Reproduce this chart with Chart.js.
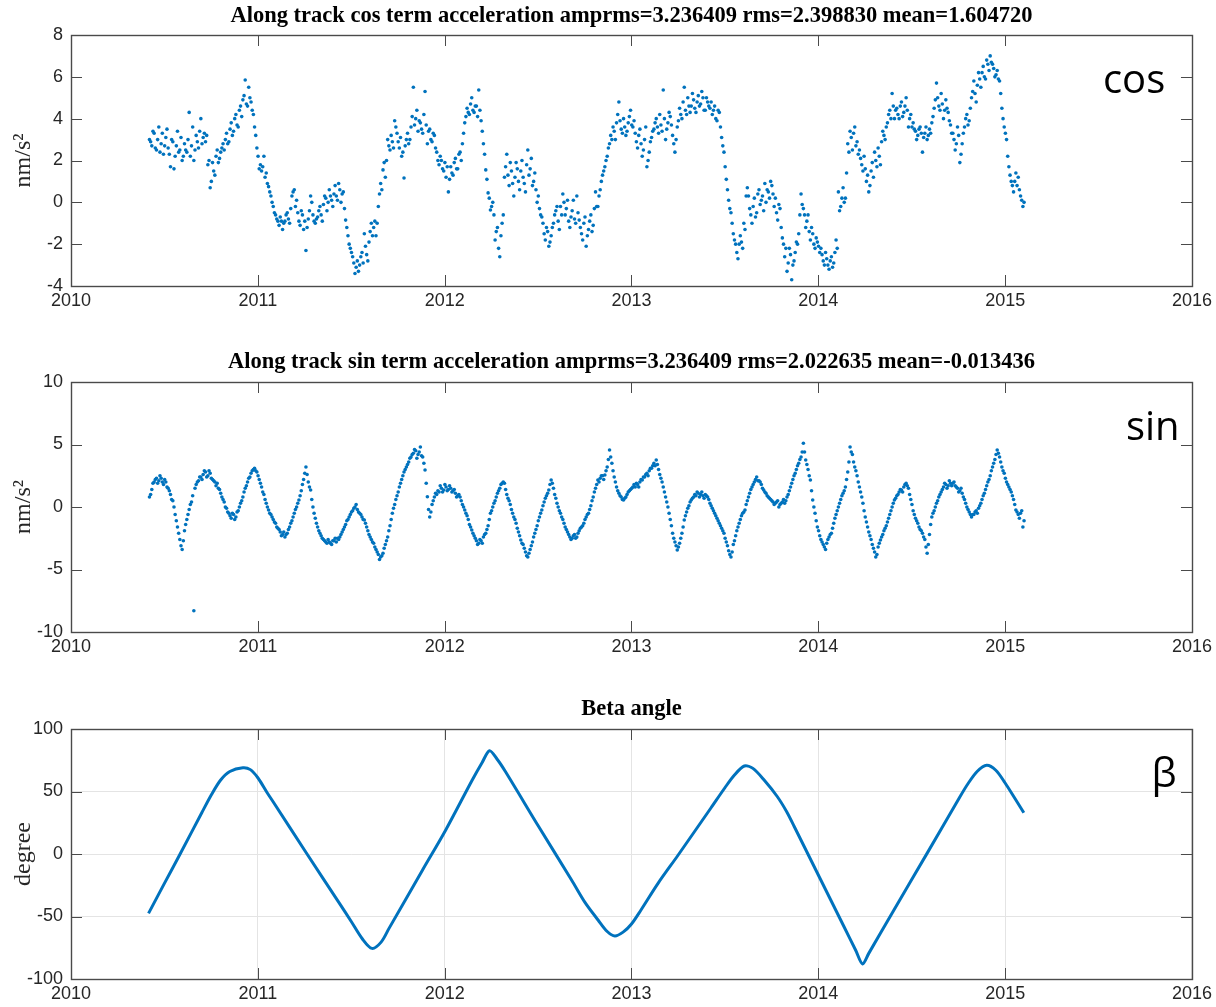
<!DOCTYPE html>
<html><head><meta charset="utf-8">
<script src="https://cdn.jsdelivr.net/npm/chart.js@4.4.1/dist/chart.umd.min.js"></script>
<style>
html,body{margin:0;padding:0;background:#fff;}
#wrap{position:relative;width:1216px;height:1007px;background:#fff;}
canvas{position:absolute;left:0;}
</style></head><body>
<div id="wrap">
<canvas id="c1" width="1216" height="320" style="top:0px"></canvas>
<canvas id="c2" width="1216" height="347" style="top:320px"></canvas>
<canvas id="c3" width="1216" height="340" style="top:667px"></canvas>
</div>
<script>
// ---- data ----
const startYear = 2010.42;
const stepYear = 0.0125;
const cosValues = [
 3.0, 2.7, 3.3, 2.5, 3.6, 2.8, 2.3, 3.1,
 2.6, 1.7, 2.9, 2.2, 3.4, 2.5, 2.0, 2.8,
 2.4, 4.3, 2.7, 2.0, 3.2, 2.6, 4.0, 3.1,
 2.9, 1.8, 0.7, 1.9, 1.3, 2.5, 2.1, 2.6,
 2.5, 3.3, 2.9, 3.8, 3.4, 4.2, 3.6, 4.6,
 4.9, 5.85, 4.6, 5.0, 4.4, 3.6, 2.6, 1.6,
 1.5, 2.2, 1.4, 0.75, 0.3, -0.2, -0.6, -0.9,
 -0.7, -1.3, -0.9, -0.5, -1.0, 0.3, 0.6, 0.1,
 -0.9, -0.4, -1.3, -2.3, -0.8, 0.3, -0.6, -1.0,
 -0.7, -0.2, -0.9, 0.3, -0.4, 0.6, 0.1, 0.4,
 0.3, 0.9, 0.0, 0.5, -0.85, -1.6, -2.2, -2.6,
 -3.4, -2.8, -3.0, -2.4, -1.5, -2.5, -1.9, -1.0,
 -1.2, -1.6, -0.2, 0.9, 1.55, 1.2, 3.0, 2.5,
 2.9, 3.9, 3.3, 2.6, 2.2, 1.16, 3.0, 2.8,
 3.6, 5.5, 4.0, 3.4, 3.8, 3.3, 5.3, 2.8,
 3.5, 2.9, 3.2, 2.4, 1.8, 2.0, 1.5, 1.2,
 0.5, 1.7, 1.3, 2.1, 1.6, 2.4, 2.8, 3.8,
 4.5, 4.2, 5.0, 4.3, 4.6, 5.37, 3.9, 2.8,
 1.55, 0.45, -0.37, 0.0, -1.8, -1.2, -2.6, -1.0,
 1.2, 2.3, 0.8, 1.5, 0.3, 1.9, 1.0, 1.5,
 1.2, 0.5, 2.5, 1.6, 0.8, 1.4, 0.0, -0.3,
 -0.7, -1.5, -1.2, -2.1, -1.6, -1.0, -0.4, -0.9,
 -0.2, 0.4, -0.6, 0.1, -1.2, -0.4, -0.8, 0.3,
 -0.85, -1.5, -1.0, -2.1, -1.3, -0.6, -1.1, 0.5,
 -0.2, 0.6, 1.3, 1.7, 2.2, 2.8, 3.0, 3.4,
 3.8, 4.8, 3.5, 4.0, 3.2, 3.8, 4.4, 3.6,
 3.3, 2.6, 3.5, 2.2, 3.0, 1.7, 2.4, 3.1,
 3.5, 4.0, 3.3, 3.7, 5.37, 3.0, 3.8, 4.1,
 3.2, 2.4, 3.6, 4.5, 4.0, 5.5, 4.2, 4.6,
 4.6, 4.9, 4.3, 5.1, 4.7, 5.0, 4.4, 4.8,
 4.5, 4.2, 4.6, 3.9, 4.3, 3.1, 2.4, 1.1,
 0.1, -0.5, -1.5, -2.0, -2.7, -1.6, -2.2, -1.3,
 0.7, -0.3, -1.0, 0.2, -0.5, 0.6, 0.1, -0.4,
 0.0, 0.5, 1.0, 0.4, 0.2, -0.85, -0.3, -1.7,
 -2.6, -3.3, -2.2, -3.7, -2.8, -1.9, -1.5, 0.4,
 -0.3, -1.2, -0.6, -1.8, -1.5, -2.2, -1.9, -2.4,
 -2.5, -3.0, -2.7, -3.2, -2.6, -2.9, -1.8, 0.5,
 -0.2, 0.7, 0.2, 2.8, 3.4, 2.5, 3.6, 2.9,
 2.5, 1.8, 2.2, 1.0, 0.5, 1.5, 1.2, 2.0,
 2.6, 1.8, 3.4, 3.0, 3.8, 4.4, 5.2, 4.0,
 4.5, 4.0, 4.8, 4.3, 5.0, 3.6, 4.2, 3.8,
 3.4, 3.2, 3.6, 2.4, 3.3, 3.0, 3.5, 3.8,
 4.5, 5.7, 4.6, 5.2, 4.0, 4.9, 4.3, 3.7,
 3.3, 2.5, 3.6, 1.9, 2.8, 3.6, 4.2, 3.9,
 5.0, 5.8, 4.8, 6.2, 5.5, 6.5, 5.9, 6.6,
 7.0, 6.6, 6.0, 6.3, 5.8, 4.5, 3.6, 3.0,
 1.7, 1.0, 0.5, 1.4, 1.2, 0.3, -0.2
];
// second reading of the cos cloud, half a step later
const cosValuesB = [
 2.9, 3.4, 2.6, 3.0, 2.4, 3.3, 2.7, 3.5,
 2.3, 3.0, 1.6, 2.7, 2.4, 3.1, 2.2, 2.5,
 3.0, 2.2, 3.6, 2.5, 2.9, 3.4, 2.8, 3.3,
 3.2, 2.0, 1.0, 1.5, 2.2, 1.9, 2.4, 2.8,
 3.0, 2.8, 3.5, 3.2, 4.0, 3.7, 4.4, 4.1,
 5.1, 4.7, 5.5, 4.8, 4.2, 3.2, 2.2, 1.8,
 1.7, 1.2, 0.9, 0.5, 0.0, -0.5, -0.8, -1.1,
 -0.9, -1.0, -0.6, -0.8, -0.3, 0.5, -0.2, -0.5,
 -1.1, -0.6, -0.9, -1.2, -0.4, 0.0, -0.9, -0.8,
 -0.4, -0.6, -0.1, 0.2, 0.0, 0.3, -0.2, 0.8,
 0.1, 0.6, 0.4, -0.3, -1.2, -2.0, -2.4, -2.9,
 -3.1, -3.3, -2.6, -2.9, -2.1, -2.8, -1.4, -1.6,
 -0.9, -1.0, 0.4, 0.6, 1.9, 2.0, 2.7, 3.2,
 2.6, 3.6, 2.9, 3.1, 2.4, 2.7, 3.3, 3.0,
 4.1, 3.7, 4.4, 3.9, 3.5, 4.2, 3.7, 3.4,
 3.0, 3.3, 2.6, 2.0, 2.2, 1.6, 1.9, 1.7,
 1.1, 1.4, 1.9, 1.6, 2.3, 2.0, 3.3, 4.1,
 4.3, 4.7, 4.4, 4.6, 4.1, 4.4, 3.4, 2.3,
 1.1, 0.2, -0.2, -0.6, -1.4, -2.2, -1.6, -0.6,
 1.7, 1.3, 1.9, 0.9, 1.2, 1.6, 0.6, 2.0,
 0.9, 1.8, 1.3, 2.1, 1.0, 0.6, 0.3, -0.6,
 -1.0, -1.8, -1.4, -1.9, -1.2, -0.6, -0.2, -1.3,
 -0.6, 0.0, -0.3, -0.9, -0.7, 0.1, -1.0, -0.5,
 -1.2, -1.8, -0.7, -1.6, -0.9, -1.4, -0.3, -0.2,
 0.3, 1.0, 1.5, 2.0, 2.6, 3.2, 3.6, 3.0,
 4.2, 3.9, 3.3, 3.6, 3.4, 4.1, 3.7, 3.9,
 2.9, 3.2, 2.8, 2.5, 3.6, 2.0, 2.9, 3.4,
 3.8, 3.6, 4.2, 3.4, 4.0, 3.5, 4.3, 3.7,
 2.8, 3.0, 3.9, 4.2, 4.8, 4.4, 5.0, 4.3,
 5.2, 4.5, 4.8, 4.6, 5.3, 4.4, 5.0, 4.6,
 4.8, 4.4, 4.0, 4.4, 3.6, 2.7, 1.7, 0.6,
 -0.3, -1.0, -1.8, -2.4, -2.0, -1.9, -1.0, 0.3,
 0.3, -0.6, -0.2, -0.7, 0.4, -0.1, 0.3, 0.9,
 0.6, 0.2, 0.8, -0.2, -0.5, -0.1, -1.2, -2.0,
 -2.2, -2.9, -2.5, -3.0, -2.4, -2.0, -0.6, -0.1,
 -0.6, -0.9, -1.4, -1.2, -2.0, -1.7, -2.1, -2.2,
 -2.8, -2.4, -3.0, -2.8, -3.1, -2.4, -2.2, -0.4,
 0.2, 0.0, 1.4, 2.4, 3.1, 3.3, 2.7, 2.3,
 2.1, 1.5, 1.6, 1.3, 0.8, 1.9, 2.4, 1.7,
 2.2, 2.9, 3.2, 3.6, 4.2, 4.0, 4.6, 4.4,
 4.2, 4.6, 4.1, 4.6, 4.4, 4.0, 3.6, 3.5,
 3.0, 3.5, 3.3, 3.1, 3.6, 3.2, 3.3, 4.1,
 4.9, 5.0, 4.4, 4.7, 4.4, 4.5, 3.9, 3.3,
 3.0, 2.8, 3.2, 2.3, 3.3, 4.0, 3.7, 4.5,
 5.3, 5.2, 5.6, 5.9, 6.2, 6.0, 6.8, 6.3,
 6.7, 6.4, 6.1, 5.9, 5.2, 4.0, 3.3, 2.2,
 1.3, 0.8, 1.0, 0.8, 0.6, 0.1, 0.0
];
const sinValues = [
 0.8, 1.4, 2.0, 2.3, 2.1, 2.3, 1.8, 2.0,
 1.5, 1.0, 0.5, -0.6, -1.6, -2.6, -3.4, -1.9,
 -1.0, -0.2, 0.4, -8.3, 1.8, 2.1, 2.4, 2.6,
 2.8, 2.5, 2.7, 2.2, 2.0, 1.9, 1.4, 0.8,
 0.4, -0.1, -0.5, -0.9, -0.6, -0.8, -0.3, 0.3,
 0.8, 1.5, 2.0, 2.4, 2.9, 3.1, 2.8, 2.2,
 1.6, 1.0, 0.3, -0.24, -0.6, -1.0, -1.3, -1.7,
 -2.0, -2.2, -2.4, -2.1, -1.6, -1.1, -0.5, 0.0,
 0.56, 1.3, 2.2, 3.2, 2.0, 1.36, 0.0, -0.9,
 -1.6, -2.1, -2.5, -2.7, -2.9, -2.8, -3.0, -2.7,
 -2.8, -2.6, -2.2, -1.8, -1.4, -1.0, -0.6, -0.3,
 0.0, -0.2, -0.5, -0.8, -1.04, -1.6, -2.2, -2.6,
 -2.9, -3.4, -3.8, -4.0, -3.7, -3.0, -2.4, -1.5,
 -0.5, 0.2, 0.9, 1.6, 2.2, 2.8, 3.2, 3.6,
 4.0, 4.3, 4.5, 4.2, 4.8, 4.0, 2.96, 0.82,
 -0.8, 0.2, 0.8, 1.0, 1.2, 1.5, 1.36, 1.6,
 1.4, 1.5, 1.3, 1.1, 0.9, 0.8, 0.2, -0.24,
 -0.7, -1.4, -1.84, -2.3, -2.7, -2.9, -2.7, -2.4,
 -2.1, -1.5, -0.5, 0.0, 0.5, 1.1, 1.5, 1.9,
 1.9, 1.0, 0.5, -0.2, -0.8, -1.3, -2.0, -2.64,
 -3.0, -3.6, -4.0, -3.4, -2.8, -2.1, -1.5, -0.8,
 -0.24, 0.4, 0.9, 1.36, 2.16, 1.5, 0.7, 0.0,
 -0.5, -1.0, -1.6, -2.0, -2.4, -2.5, -2.2, -2.4,
 -1.9, -1.6, -1.3, -0.8, -0.5, 0.1, 0.8, 1.5,
 2.16, 2.3, 2.5, 2.56, 3.2, 4.56, 3.5, 2.4,
 1.6, 1.1, 0.8, 0.56, 0.8, 1.2, 1.4, 1.6,
 1.6, 1.8, 2.0, 2.16, 2.4, 2.7, 2.9, 3.1,
 3.5, 3.76, 3.0, 2.3, 1.6, 0.8, 0.0, -1.0,
 -2.1, -2.8, -3.44, -2.9, -2.1, -1.04, -0.4, 0.1,
 0.56, 0.8, 0.9, 1.1, 1.0, 0.9, 1.0, 0.8,
 0.3, -0.1, -0.5, -0.9, -1.3, -1.7, -2.1, -2.8,
 -3.5, -4.0, -3.0, -2.3, -1.6, -1.0, -0.5, -0.24,
 0.5, 1.1, 1.6, 2.0, 2.4, 2.1, 1.8, 1.36,
 1.1, 0.8, 0.6, 0.4, 0.3, 0.5, 0.2, 0.4,
 0.3, 0.8, 1.3, 1.9, 2.5, 3.0, 3.5, 4.0,
 5.1, 3.76, 3.0, 2.16, 0.56, -0.5, -1.6, -2.3,
 -2.8, -3.2, -2.9, -2.4, -2.1, -1.3, -0.6, 0.0,
 0.6, 1.1, 1.6, 2.8, 4.8, 4.2, 3.2, 2.5,
 1.6, 0.8, -0.3, -1.2, -2.0, -2.6, -3.3, -4.0,
 -3.2, -2.64, -2.2, -1.7, -1.2, -0.6, 0.0, 0.56,
 0.9, 1.2, 1.36, 1.6, 1.9, 1.5, 0.6, -0.3,
 -0.9, -1.3, -1.8, -2.1, -2.6, -3.7, -2.2, -0.8,
 -0.3, 0.3, 0.8, 1.2, 1.6, 1.8, 1.7, 1.9,
 1.9, 1.7, 1.5, 1.3, 1.1, 0.6, 0.0, -0.4,
 -0.8, -0.6, -0.3, -0.1, 0.3, 0.9, 1.4, 2.0,
 2.5, 3.2, 3.8, 4.56, 4.0, 3.2, 2.7, 2.0,
 1.6, 1.2, 0.6, -0.24, -0.6, -0.5, -1.6
];
// second reading of the sin band, half a step later
const sinValuesB = [
 1.0, 1.9, 2.2, 1.9, 2.5, 2.0, 2.2, 1.6,
 1.3, 0.6, 0.0, -1.1, -2.1, -3.1, -2.7, -1.4,
 -0.6, 0.2, 0.9, 1.5, 2.0, 2.4, 2.2, 2.9,
 2.4, 2.9, 2.3, 2.1, 1.7, 1.5, 1.1, 0.6,
 0.0, -0.4, -0.7, -0.5, -1.0, -0.4, 0.0, 0.5,
 1.2, 1.7, 2.3, 2.7, 3.0, 2.9, 2.5, 1.9,
 1.2, 0.6, 0.0, -0.5, -0.8, -1.2, -1.6, -1.8,
 -2.3, -2.0, -2.2, -1.8, -1.3, -0.8, -0.2, 0.3,
 0.9, 1.8, 2.7, 2.6, 1.6, 0.6, -0.5, -1.3,
 -1.9, -2.3, -2.6, -2.8, -2.6, -2.9, -2.7, -2.5,
 -2.5, -2.4, -2.0, -1.6, -1.1, -0.8, -0.4, -0.1,
 0.2, -0.4, -0.6, -1.0, -1.3, -1.9, -2.4, -2.8,
 -3.2, -3.6, -4.2, -3.9, -3.3, -2.7, -1.9, -1.0,
 -0.1, 0.6, 1.2, 1.9, 2.5, 3.0, 3.4, 3.9,
 4.2, 4.6, 3.9, 4.4, 4.1, 3.5, 1.9, -0.2,
 -0.4, 0.5, 1.1, 1.3, 1.7, 1.2, 1.8, 1.3,
 1.7, 1.2, 1.4, 0.8, 1.0, 0.5, 0.0, -0.5,
 -1.0, -1.6, -2.1, -2.5, -3.0, -2.6, -2.9, -2.2,
 -1.8, -1.0, -0.3, 0.3, 0.8, 1.3, 1.8, 2.0,
 1.4, 0.7, 0.2, -0.5, -1.0, -1.7, -2.3, -2.9,
 -3.3, -3.9, -3.7, -3.1, -2.4, -1.8, -1.1, -0.5,
 0.1, 0.7, 1.1, 1.8, 1.9, 1.0, 0.3, -0.3,
 -0.8, -1.3, -1.8, -2.2, -2.6, -2.3, -2.5, -2.1,
 -1.7, -1.5, -1.0, -0.6, -0.2, 0.5, 1.2, 1.8,
 2.0, 2.5, 2.2, 2.9, 3.8, 4.0, 2.9, 2.0,
 1.3, 0.9, 0.6, 0.7, 1.0, 1.3, 1.5, 1.8,
 1.9, 1.6, 2.2, 2.4, 2.6, 2.5, 3.1, 3.3,
 3.3, 3.4, 2.6, 2.0, 1.2, 0.4, -0.5, -1.5,
 -2.5, -3.1, -3.2, -2.5, -1.6, -0.7, -0.1, 0.4,
 0.7, 1.0, 1.2, 0.8, 1.2, 0.7, 0.9, 0.6,
 0.1, -0.3, -0.7, -1.1, -1.5, -1.9, -2.5, -3.1,
 -3.8, -3.6, -2.7, -1.9, -1.3, -0.7, -0.4, 0.2,
 0.8, 1.4, 1.8, 2.2, 2.1, 2.0, 1.5, 1.2,
 0.9, 0.7, 0.5, 0.2, 0.4, 0.0, 0.3, 0.6,
 0.5, 1.0, 1.6, 2.2, 2.7, 3.3, 3.8, 4.4,
 4.4, 3.4, 2.5, 1.3, 0.0, -1.1, -1.9, -2.6,
 -3.0, -3.4, -2.6, -2.2, -1.7, -0.9, -0.3, 0.3,
 0.9, 1.3, 2.2, 3.6, 4.4, 3.6, 2.9, 2.0,
 1.2, 0.3, -0.8, -1.6, -2.3, -3.0, -3.6, -3.8,
 -2.9, -2.4, -1.9, -1.5, -0.9, -0.3, 0.3, 0.7,
 1.0, 1.4, 1.2, 1.8, 1.7, 1.0, 0.2, -0.6,
 -1.1, -1.6, -1.9, -2.4, -3.2, -3.0, -1.4, -0.5,
 0.0, 0.5, 1.0, 1.4, 1.9, 1.5, 2.1, 1.7,
 2.0, 1.6, 1.2, 1.5, 0.8, 0.3, -0.2, -0.6,
 -0.6, -0.4, -0.5, 0.1, 0.6, 1.1, 1.7, 2.2,
 2.9, 3.5, 4.2, 4.3, 3.6, 2.9, 2.3, 1.8,
 1.4, 0.9, 0.2, -0.4, -0.9, -0.3, -1.1
];
const betaYears = [
 2010.415, 2010.50, 2010.584, 2010.70, 2010.75, 2010.80, 2010.85, 2010.92, 2010.96,
 2011.00, 2011.05, 2011.081, 2011.259, 2011.437, 2011.50, 2011.56, 2011.611, 2011.66, 2011.703, 2011.881,
 2012.005, 2012.147, 2012.20, 2012.24, 2012.28, 2012.325, 2012.503, 2012.68, 2012.75, 2012.822, 2012.87, 2012.911, 2012.955,
 2013.00, 2013.05, 2013.142, 2013.249, 2013.426, 2013.50, 2013.55, 2013.604, 2013.65, 2013.711, 2013.78, 2013.83, 2013.871,
 2014.004, 2014.137, 2014.20, 2014.237, 2014.27, 2014.404, 2014.582, 2014.759, 2014.80, 2014.85, 2014.901, 2014.95, 2014.999,
 2015.05, 2015.10
];
const betaValues = [
 -47.5, -23.5, 0, 33, 47, 59, 66, 69, 67.5,
 61, 49, 42, 1, -39.5, -54, -68, -75.5, -70.5, -59.3, -13,
 19, 59, 73, 82.6, 76, 66, 22, -21, -38.5, -53, -62, -65.6, -62.5,
 -56, -45, -23.5, -1, 37, 53, 63, 70.4, 68.5, 59, 46, 34, 22,
 -18, -58, -77, -88, -79.5, -45, 0.5, 46, 56, 66, 71, 67, 57,
 45, 33
];
const xTickValues = [2010, 2011, 2012, 2013, 2014, 2015, 2016];
const cosTickValues = [-4, -2, 0, 2, 4, 6, 8];
const sinTickValues = [-10, -5, 0, 5, 10];
const betaTickValues = [-100, -50, 0, 50, 100];
const titles = [
 'Along track cos term acceleration amprms=3.236409 rms=2.398830 mean=1.604720',
 'Along track sin term acceleration amprms=3.236409 rms=2.022635 mean=-0.013436',
 'Beta angle'
];

// ---- helpers ----
const BLUE = '#0072BD';
const AX = '#4a4a4a';
const TICKFONT = {family: 'Liberation Sans, Arial, sans-serif', size: 18};

function toPoints(vals, shift){ return vals.map((v,i)=>({x: startYear + shift + i*stepYear, y: v})); }

const boxPlugin = {
  id: 'box',
  afterDraw(chart){
    const {ctx, chartArea: a, scales: {x, y}} = chart;
    const o = chart.options.plugins.box;
    ctx.save();
    ctx.strokeStyle = AX; ctx.lineWidth = 1;
    const L = 11;
    ctx.beginPath();
    x.ticks.forEach(t => {
      const px = Math.round(x.getPixelForValue(t.value)) + 0.5;
      ctx.moveTo(px, a.bottom); ctx.lineTo(px, a.bottom - L);
      ctx.moveTo(px, a.top); ctx.lineTo(px, a.top + L);
    });
    y.ticks.forEach(t => {
      const py = Math.round(y.getPixelForValue(t.value)) + 0.5;
      ctx.moveTo(a.left, py); ctx.lineTo(a.left + L, py);
      ctx.moveTo(a.right, py); ctx.lineTo(a.right - L, py);
    });
    ctx.stroke();
    ctx.lineWidth = 1.4;
    ctx.strokeRect(Math.round(a.left)+0.5, Math.round(a.top)+0.5, Math.round(a.right-a.left), Math.round(a.bottom-a.top));
    ctx.fillStyle = '#000';
    ctx.font = o.font;
    ctx.textAlign = 'center';
    ctx.textBaseline = 'alphabetic';
    ctx.fillText(o.label, x.getPixelForValue(o.lx), y.getPixelForValue(o.ly));
    ctx.restore();
  }
};

function makeChart(id, cfg){
  const xs = cfg.xHeight;
  return new Chart(document.getElementById(id), {
    type: 'scatter',
    data: {datasets: cfg.datasets},
    plugins: [boxPlugin],
    options: {
      responsive: false,
      devicePixelRatio: 1,
      animation: false,
      layout: {padding: {left: 0, right: 19, top: 0, bottom: 0}, autoPadding: false},
      plugins: {
        legend: {display: false},
        tooltip: {enabled: false},
        title: {display: true, fullSize: false, text: cfg.title, color: '#000',
          font: {family: 'Liberation Serif, Times New Roman, serif', size: 22.5, weight: 'bold', lineHeight: 1.2},
          padding: cfg.titlePad},
        box: {label: cfg.label, lx: cfg.lx, ly: cfg.ly, font: cfg.labelFont}
      },
      scales: {
        x: {
          type: 'linear', min: 2010, max: 2016,
          afterBuildTicks: s => { s.ticks = xTickValues.map(v => ({value: v})); },
          afterFit: s => { s.height = xs; },
          ticks: {color: '#262626', font: TICKFONT, padding: 4, maxRotation: 0, autoSkip: false, callback: v => String(v)},
          grid: {display: cfg.grid, drawOnChartArea: true, drawTicks: false, color: '#e4e4e4', lineWidth: 1},
          border: {display: false}
        },
        y: {
          min: cfg.ymin, max: cfg.ymax,
          afterBuildTicks: s => { s.ticks = cfg.yticks.map(v => ({value: v})); },
          afterFit: s => { s.width = 71; },
          ticks: {color: '#262626', font: TICKFONT, padding: 8, autoSkip: false, callback: v => String(v)},
          grid: {display: cfg.grid, drawOnChartArea: true, drawTicks: false, color: '#e4e4e4', lineWidth: 1},
          border: {display: false},
          title: {display: true, text: cfg.ytitle, color: '#262626',
            font: {family: 'Liberation Serif, Times New Roman, serif', size: 24, lineHeight: 1.2},
            padding: {top: 9, bottom: 0}}
        }
      }
    }
  });
}

const pointStyle = {pointRadius: 1.8, pointHoverRadius: 1.8, pointBorderWidth: 0, backgroundColor: BLUE, borderColor: BLUE, showLine: false};

makeChart('c1', {
  title: titles[0], titlePad: {top: 2.5, bottom: 5.5}, xHeight: 34,
  ymin: -4, ymax: 8, yticks: cosTickValues, ytitle: 'nm/s\u00B2', grid: false,
  label: 'cos', lx: 2015.69, ly: 5.25, labelFont: '40px "Open Sans", "Noto Sans", sans-serif',
  datasets: [Object.assign({data: toPoints(cosValues, 0)}, pointStyle),
             Object.assign({data: toPoints(cosValuesB, stepYear/2)}, pointStyle)]
});
makeChart('c2', {
  title: titles[1], titlePad: {top: 29, bottom: 6}, xHeight: 35,
  ymin: -10, ymax: 10, yticks: sinTickValues, ytitle: 'nm/s\u00B2', grid: false,
  label: 'sin', lx: 2015.79, ly: 5.36, labelFont: '40px "Open Sans", "Noto Sans", sans-serif',
  datasets: [Object.assign({data: toPoints(sinValues, 0)}, pointStyle),
             Object.assign({data: toPoints(sinValuesB, stepYear/2)}, pointStyle)]
});
makeChart('c3', {
  title: titles[2], titlePad: {top: 29, bottom: 6}, xHeight: 28,
  ymin: -100, ymax: 100, yticks: betaTickValues, ytitle: 'degree', grid: true,
  label: '\u03B2', lx: 2015.85, ly: 54, labelFont: '40px "Open Sans", "Noto Sans", sans-serif',
  datasets: [{data: betaYears.map((x,i)=>({x: x, y: betaValues[i]})), showLine: true,
    borderColor: BLUE, borderWidth: 3, pointRadius: 0, tension: 0.3, fill: false}]
});
</script>
</body></html>
